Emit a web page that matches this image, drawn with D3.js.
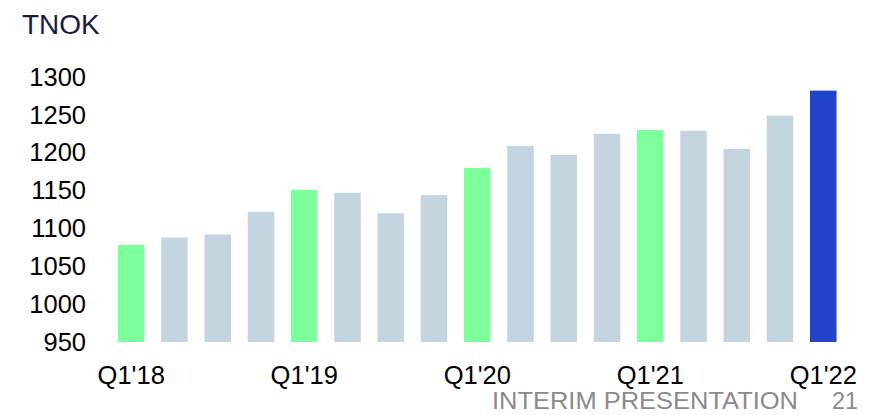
<!DOCTYPE html>
<html>
<head>
<meta charset="utf-8">
<script src="https://cdn.jsdelivr.net/npm/d3@7"></script>
<style>
  body { margin: 0; background: #fff; }
  svg { display: block; font-family: "Liberation Sans", Arial, sans-serif; }
</style>
</head>
<body>
<script>
// quarters from Q1'18 to Q1'22
const quarters = ["Q1'18", "Q2'18", "Q3'18", "Q4'18",
                  "Q1'19", "Q2'19", "Q3'19", "Q4'19",
                  "Q1'20", "Q2'20", "Q3'20", "Q4'20",
                  "Q1'21", "Q2'21", "Q3'21", "Q4'21",
                  "Q1'22"];
const values = [1078, 1088, 1092, 1122, 1151, 1147, 1120, 1144,
                1180, 1209, 1197, 1225, 1230, 1229, 1205, 1249, 1282];
const xTickLabels = ["Q1'18", "Q1'19", "Q1'20", "Q1'21", "Q1'22"];
const yTicks = [950, 1000, 1050, 1100, 1150, 1200, 1250, 1300];

const width = 884, height = 415;

const svg = d3.select('body').append('svg')
  .attr('width', width)
  .attr('height', height);

const x = d3.scaleBand()
  .domain(quarters)
  .range([109.6, 844.9])
  .paddingInner(0.387)
  .paddingOuter(0.1935);

const y = d3.scaleLinear()
  .domain([950, 1300])
  .range([342, 77]);

// colour: first quarter of each year green, latest quarter dark blue
const barColor = (q, i) => {
  if (i === quarters.length - 1) return '#1f44c7';
  if (q.startsWith('Q1')) return '#7dff9b';
  return '#c4d5e0';
};

svg.append('g')
  .selectAll('rect')
  .data(quarters)
  .enter()
  .append('rect')
  .attr('x', (d) => x(d))
  .attr('y', (d, i) => y(values[i]))
  .attr('width', x.bandwidth())
  .attr('height', (d, i) => y(950) - y(values[i]))
  .attr('fill', (d, i) => barColor(d, i));

// y axis, labels only
const yAxis = svg.append('g')
  .attr('transform', 'translate(86,0)')
  .call(d3.axisLeft(y).tickValues(yTicks).tickFormat(d3.format('d'))
    .tickSize(0).tickPadding(0));
yAxis.select('.domain').remove();
yAxis.selectAll('text')
  .attr('font-family', '"Liberation Sans", Arial, sans-serif')
  .attr('font-size', 25.5)
  .attr('fill', '#000');

// x axis, one label per year
const xAxis = svg.append('g')
  .attr('transform', 'translate(0,342)')
  .call(d3.axisBottom(x).tickValues(xTickLabels).tickSize(0).tickPadding(0));
xAxis.select('.domain').remove();
xAxis.selectAll('text')
  .attr('font-family', '"Liberation Sans", Arial, sans-serif')
  .attr('font-size', 25.5)
  .attr('y', 42)
  .attr('dy', 0)
  .attr('fill', '#000');

// unit title
svg.append('text')
  .attr('x', 22)
  .attr('y', 34)
  .attr('font-size', 28)
  .attr('fill', '#1a1a40')
  .text('TNOK');

// footer
svg.append('text')
  .attr('x', 492)
  .attr('y', 409)
  .attr('font-size', 23)
  .attr('textLength', 306)
  .attr('lengthAdjust', 'spacingAndGlyphs')
  .attr('fill', '#8a8a8a')
  .text('INTERIM PRESENTATION');

svg.append('text')
  .attr('x', 832)
  .attr('y', 409)
  .attr('font-size', 23)
  .attr('textLength', 26)
  .attr('lengthAdjust', 'spacingAndGlyphs')
  .attr('fill', '#8a8a8a')
  .text('21');
</script>
</body>
</html>
